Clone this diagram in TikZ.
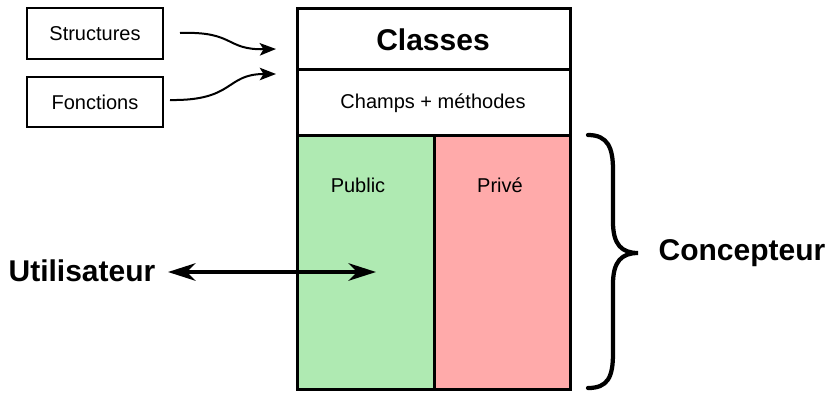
\documentclass[tikz,border=0pt]{standalone}
\usepackage{fontspec}
\setmainfont{Liberation Sans}
\usetikzlibrary{arrows.meta}
\definecolor{pubgreen}{RGB}{175,234,178}
\definecolor{privred}{RGB}{255,170,170}
\tikzset{
  smallbox/.style={draw, line width=1.5pt, inner sep=0pt, font=\fontsize{16}{18}\selectfont},
  bigtxt/.style={font=\bfseries\fontsize{24}{28}\selectfont, inner sep=0pt},
  midtxt/.style={font=\fontsize{16}{18}\selectfont, inner sep=0pt},
  curvarrow/.style={line width=1.6pt, -{Stealth[length=13pt,width=10pt,inset=3pt]}},
  dblarrow/.style={line width=3pt, {Stealth[length=22pt,width=14pt,inset=7pt]}-{Stealth[length=22pt,width=14pt,inset=7pt]}},
}
\begin{document}
\begin{tikzpicture}[x=0.8pt,y=-0.8pt]
\useasboundingbox (0,0) rectangle (830,393);
% main box parts
\fill[pubgreen] (297,135) rectangle (434,389);
\fill[privred] (434,135) rectangle (570,389);
\draw[line width=2.4pt] (297,69) -- (570,69);
\draw[line width=2.4pt] (297,135) -- (570,135);
\draw[line width=2.4pt] (434,135) -- (434,389);
\draw[line width=2.4pt] (297,8) rectangle (570,389);
% texts in box
\node[bigtxt] (classes) at (433,40) {Classes};
\node[midtxt] (champs) at (433,103) {Champs + méthodes};
\node[midtxt] (public) at (358,185) {Public};
\node[midtxt] (prive) at (500,185) {Privé};
% small boxes
\node[smallbox, minimum width=108.8pt, minimum height=40.8pt] (struct) at (95,33.5) {Structures};
\node[smallbox, minimum width=108.8pt, minimum height=40pt] (fonct) at (95,102) {Fonctions};
\coordinate (s1) at (180,33);
\coordinate (s2) at (276,49);
\coordinate (f1) at (170,100);
\coordinate (f2) at (276,74);
\draw[curvarrow] (s1) .. controls (235,31) and (225,50) .. (s2);
\draw[curvarrow] (f1) .. controls (235,101) and (225,74) .. (f2);
% user arrow
\node[bigtxt] (user) at (82,271) {Utilisateur};
\coordinate (ul) at (168,272);
\coordinate (ur) at (376,272);
\draw[dblarrow] (ul) -- (ur);
% brace
\draw[line width=3.4pt, line cap=round, line join=miter]
  (588,135) .. controls (608,135) and (613,148) .. (613,170)
  -- (613,222) .. controls (613,245) and (622,253) .. (638,253)
  .. controls (622,253) and (613,261) .. (613,284)
  -- (613,353) .. controls (613,377) and (608,388) .. (588,388);
\node[bigtxt] (concept) at (742,253) {Concepteur};
\end{tikzpicture}
\end{document}
